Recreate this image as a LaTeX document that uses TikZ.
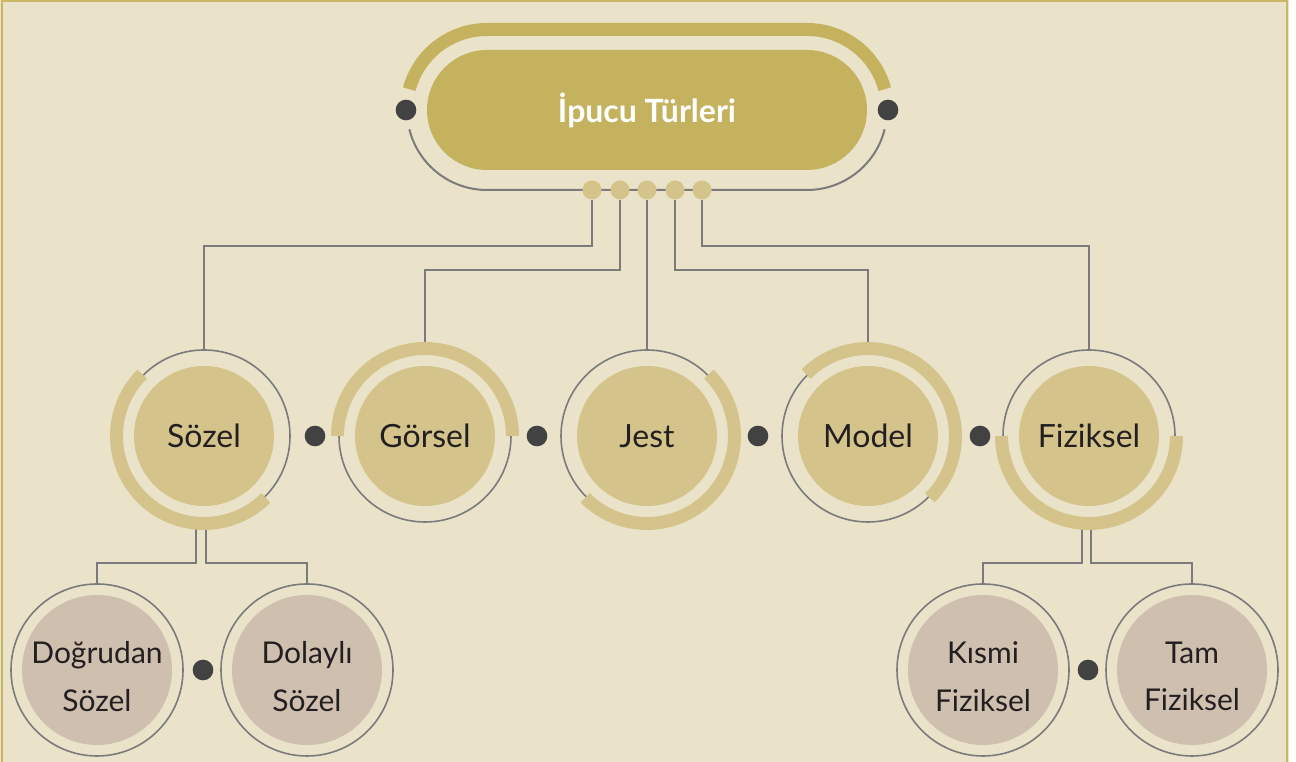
\documentclass[tikz,border=0pt]{standalone}
\usepackage{fontspec}
\setmainfont{Lato}
\definecolor{bg}{HTML}{EAE3C9}
\definecolor{bordc}{HTML}{C9B766}
\definecolor{pillc}{HTML}{C4B25F}
\definecolor{lgold}{HTML}{D4C48B}
\definecolor{taupe}{HTML}{CFBFAF}
\definecolor{lineg}{HTML}{7B7B7B}
\definecolor{darkc}{HTML}{424242}
\definecolor{txt}{HTML}{231F20}
\begin{document}
\begin{tikzpicture}[x=0.75pt,y=0.75pt,
  ring/.style={circle, draw=lineg, line width=1.2pt, minimum size=129pt, inner sep=0pt},
  maincirc/.style={circle, fill=lgold, minimum size=105pt, inner sep=0pt, text=txt, font=\fontsize{24}{28}\selectfont},
  subcirc/.style={circle, fill=taupe, minimum size=112.5pt, inner sep=0pt},
  subtext/.style={inner sep=0pt, text=txt, align=center, font=\fontsize{22.5}{35.5}\selectfont},
  darkdot/.style={circle, fill=darkc, minimum size=15.5pt, inner sep=0pt},
  golddot/.style={circle, fill=lgold, minimum size=14.25pt, inner sep=0pt},
  conn/.style={draw=lineg, line width=1.6pt},
  band/.style={draw=lgold, line width=9.75pt},
  pband/.style={draw=pillc, line width=9.75pt},
  pillnode/.style={fill=pillc, rounded corners=45pt, minimum width=330pt, minimum height=90pt, inner sep=0pt, text=white, font=\fontsize{24}{28}\selectfont\bfseries}
]
\useasboundingbox (0,0) rectangle (1296,762);
\fill[white] (0,0) rectangle (1296,762);
\fill[bg] (0,0) rectangle (1289,762);
\draw[bordc, line width=2pt] (2,0) -- (2,761) -- (1287,761) -- (1287,0);

% title pill
\coordinate (pl) at (487,652);
\coordinate (pr) at (807,652);
\draw[lineg, line width=1.5pt] ([shift={(194:80)}]pl) arc[start angle=194,end angle=270,radius=80] -- ([shift={(270:80)}]pr) arc[start angle=270,end angle=346,radius=80];
\draw[pband] ([shift={(165:80.5)}]pl) arc[start angle=165,end angle=90,radius=80.5] -- ([shift={(90:80.5)}]pr) arc[start angle=90,end angle=15,radius=80.5];
\node[pillnode] (title) at (647,652) {İpucu Türleri};
\node[darkdot] (tl) at (406,652) {};
\node[darkdot] (tr) at (888,652) {};

\node[golddot] (d1) at (592,572) {};
\node[golddot] (d2) at (620,572) {};
\node[golddot] (d3) at (647,572) {};
\node[golddot] (d4) at (675,572) {};
\node[golddot] (d5) at (702,572) {};

% main circles
\node[ring] (sR) at (204,326) {};
\node[ring] (gR) at (425,326) {};
\node[ring] (jR) at (647,326) {};
\node[ring] (mR) at (868,326) {};
\node[ring] (fR) at (1089,326) {};
\node[maincirc] (s) at (204,326) {Sözel};
\node[maincirc] (g) at (425,326) {Görsel};
\node[maincirc] (j) at (647,326) {Jest};
\node[maincirc] (m) at (868,326) {Model};
\node[maincirc] (f) at (1089,326) {Fiziksel};
\node[darkdot] (b1) at (315,326) {};
\node[darkdot] (b2) at (537,326) {};
\node[darkdot] (b3) at (758,326) {};
\node[darkdot] (b4) at (980,326) {};

% sub circles
\node[ring] (dgR) at (97,92) {};
\node[ring] (dlR) at (307,92) {};
\node[ring] (kmR) at (983,92) {};
\node[ring] (tmR) at (1192,92) {};
\node[subcirc] (dg) at (97,92) {};
\node[subcirc] (dl) at (307,92) {};
\node[subcirc] (km) at (983,92) {};
\node[subcirc] (tm) at (1192,92) {};
\node[subtext] (dgt) at ([yshift=-5pt]dg.center) {Doğrudan\\Sözel};
\node[subtext] (dlt) at ([yshift=-5pt]dl.center) {Dolaylı\\Sözel};
\node[subtext] (kmt) at ([yshift=-5pt]km.center) {Kısmi\\Fiziksel};
\node[subtext] (tmt) at ([yshift=-5pt]tm.center) {Tam\\Fiziksel};
\node[darkdot] (sb1) at (203,92) {};
\node[darkdot] (sb2) at (1088,92) {};

% connectors
\coordinate (h1) at (0,516);
\coordinate (h2) at (0,492);
\coordinate (h3) at (0,199);
\draw[conn] (d1) |- (sR.north |- h1) -- (sR.north);
\draw[conn] (d2) |- (gR.north |- h2) -- (gR.north);
\draw[conn] (d3) -- (jR.north);
\draw[conn] (d4) |- (mR.north |- h2) -- (mR.north);
\draw[conn] (d5) |- (fR.north |- h1) -- (fR.north);

\coordinate (sa) at ([xshift=-6pt]sR.south);
\coordinate (sb) at ([xshift=1.5pt]sR.south);
\coordinate (fa) at ([xshift=-5.5pt]fR.south);
\coordinate (fb) at ([xshift=1.5pt]fR.south);
\draw[conn] (sa) -- (sa |- h3) -| (dgR.north);
\draw[conn] (sb) -- (sb |- h3) -| (dlR.north);
\draw[conn] (fa) -- (fa |- h3) -| (kmR.north);
\draw[conn] (fb) -- (fb |- h3) -| (tmR.north);

% bands
\draw[band] ([shift={(135:87.5)}]s.center) arc[start angle=135,end angle=315,radius=87.5];
\draw[band] ([shift={(180:87.5)}]g.center) arc[start angle=180,end angle=0,radius=87.5];
\draw[band] ([shift={(45:87.5)}]j.center) arc[start angle=45,end angle=-135,radius=87.5];
\draw[band] ([shift={(135:87.5)}]m.center) arc[start angle=135,end angle=-45,radius=87.5];
\draw[band] ([shift={(180:87.5)}]f.center) arc[start angle=180,end angle=360,radius=87.5];
\end{tikzpicture}
\end{document}
